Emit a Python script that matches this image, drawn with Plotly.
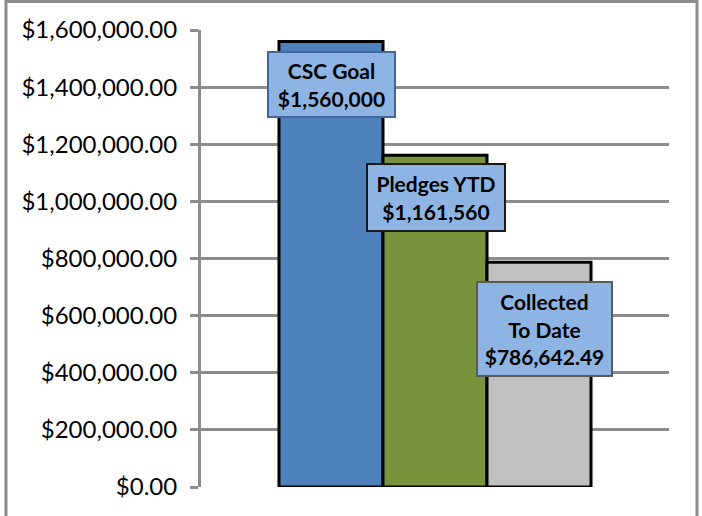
import plotly.graph_objects as go

categories = ["CSC Goal", "Pledges YTD", "Collected To Date"]
values = [1560000, 1161560, 786642.49]
label_texts = ["CSC Goal<br>$1,560,000", "Pledges YTD<br>$1,161,560", "Collected<br>To Date<br>$786,642.49"]
colors = ["#4f81bd", "#77933c", "#c0c0c0"]
tick_vals = [0, 200000, 400000, 600000, 800000, 1000000, 1200000, 1400000, 1600000]

fig = go.Figure()
for name, v, c in zip(categories, values, colors):
    fig.add_trace(go.Bar(x=[""], y=[v], name=name, marker=dict(color=c, line=dict(color="#000000", width=3)),
                         showlegend=False, hoverinfo="skip"))

# annotation boxes
ann_pos = [(0.2799, 0.8807, 125, 63, "#41689a"), (0.5021, 0.6335, 136, 65, "#1a1a1a"), (0.735, 0.3457, 133, 92, "#5a5a5a")]
for txt, (px, py, w, h, bc) in zip(label_texts, ann_pos):
    fig.add_annotation(x=px, y=py, xref="paper", yref="paper", xanchor="center", yanchor="middle",
                       text="<b>" + txt + "</b>", showarrow=False,
                       font=dict(family="Lato", size=21, color="#000000"), bgcolor="#8eb4e3",
                       bordercolor=bc, borderwidth=2, borderpad=0, width=w, height=h, align="center")

# outer frame
fig.add_shape(type="rect", xref="paper", yref="paper", x0=-0.4167, x1=1.0598, y0=-0.2, y1=1.0624,
              line=dict(color="#8c8c8c", width=3), fillcolor="rgba(0,0,0,0)", layer="below")

fig.update_layout(
    width=702, height=516,
    margin=dict(l=201, r=33, t=30, b=29),
    paper_bgcolor="#ffffff", plot_bgcolor="#ffffff",
    barmode="group", bargap=0.3333, bargroupgap=0,
    xaxis=dict(showticklabels=False, showgrid=False, zeroline=False, showline=False, ticks=""),
    yaxis=dict(range=[0, 1600000], tickvals=tick_vals, tickformat="$,.2f",
               showgrid=True, gridcolor="#8c8c8c", gridwidth=3,
               showline=True, linecolor="#8c8c8c", linewidth=3,
               ticks="outside", ticklen=8, tickwidth=3, tickcolor="#8c8c8c",
               ticklabelstandoff=8, zeroline=False,
               tickfont=dict(family="Lato", size=24, color="#000000")),
)

fig.write_html("out.html")
